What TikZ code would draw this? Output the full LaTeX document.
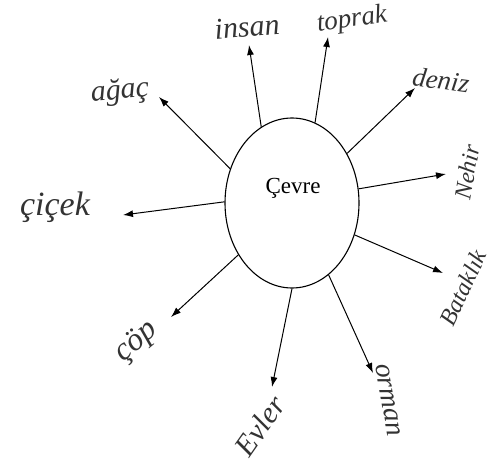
\documentclass[tikz,border=0pt]{standalone}
\usepackage{fontspec}
\setmainfont{Liberation Serif}
\usetikzlibrary{arrows.meta,shapes.geometric}
\tikzset{
  conn/.style={line width=1pt, -{Latex[length=10pt,width=7pt]}},
  oval/.style={ellipse, draw, line width=1.1pt, minimum width=134pt, minimum height=170pt, inner sep=0pt},
  hw/.style={font=\itshape\fontsize{#1}{#1}\selectfont, inner sep=0pt, text=black!80},
}
\begin{document}
\begin{tikzpicture}[x=1pt,y=-1pt]
\useasboundingbox (0,0) rectangle (494,468);
\node[oval] (e) at (292,203) {};
\node[font=\fontsize{23}{23}\selectfont] (t) at (293,188) {Çevre};
% labels
\node[hw=30, rotate=5] (agac) at (120,92) {ağaç};
\node[hw=30, rotate=5] (insan) at (247,27) {insan};
\node[hw=27, rotate=8] (toprak) at (352,20) {toprak};
\node[hw=27, rotate=-8] (deniz) at (441,80) {deniz};
\node[hw=24, rotate=80] (nehir) at (467,172) {Nehir};
\node[hw=24, rotate=65] (batak) at (463,288) {Bataklık};
\node[hw=28, rotate=-80] (orman) at (388,400) {orman};
\node[hw=30, rotate=55] (evler) at (260,426) {Evler};
\node[hw=32, rotate=40] (cop) at (137,342) {çöp};
\node[hw=34] (cicek) at (55,207) {çiçek};
% arrow tips
\coordinate (tA) at (159,97);
\coordinate (tI) at (249,45);
\coordinate (tT) at (328,37);
\coordinate (tD) at (415,88);
\coordinate (tN) at (446,174);
\coordinate (tC) at (123,215);
\coordinate (tB) at (443,273);
\coordinate (tO) at (373,373);
\coordinate (tE) at (272,387);
\coordinate (tP) at (171,317);
% connectors
\draw[conn] (e.151.4) -- (tA);
\draw[conn] (e.112.8) -- (tI);
\draw[conn] (e.74.5) -- (tT);
\draw[conn] (e.42.8) -- (tD);
\draw[conn] (e.12.9) -- (tN);
\draw[conn] (e.179) -- (tC);
\draw[conn] (e.-27.9) -- (tB);
\draw[conn] (e.-63.1) -- (tO);
\draw[conn] (e.-90.7) -- (tE);
\draw[conn] (e.-136.1) -- (tP);
\end{tikzpicture}
\end{document}
